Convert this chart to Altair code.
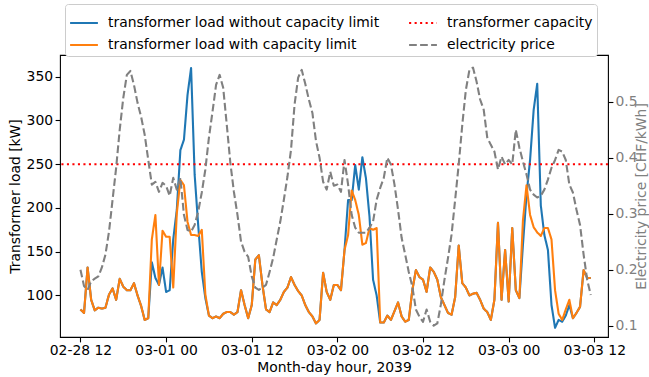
import altair as alt
import pandas as pd

# 30-minute time grid, 2039-02-28 12:00 .. 2039-03-03 11:30
times = pd.date_range("2039-02-28 12:00", periods=144, freq="30min").strftime("%Y-%m-%dT%H:%M:%S").tolist()

load_with_limit = [
    84, 80, 132, 95, 83, 86, 85, 86, 101, 108, 95, 119, 110, 106, 106, 114, 100, 88, 72, 74,
    164, 192, 112, 174, 167, 167, 109, 194, 232, 226, 184, 169, 169, 168, 175, 101, 77, 74, 76, 74,
    79, 81, 81, 78, 81, 106, 89, 74, 89, 141, 146, 112, 84, 81, 92, 89, 95, 104, 109, 121,
    112, 105, 100, 89, 81, 76, 68, 72, 126, 104, 95, 112, 112, 106, 152, 169, 220, 209, 192, 158,
    160, 177, 175, 177, 69, 69, 77, 72, 82, 92, 76, 70, 72, 106, 129, 121, 118, 104, 132, 127,
    118, 98, 89, 80, 78, 98, 157, 114, 109, 100, 102, 103, 95, 85, 81, 72, 95, 183, 95, 152,
    93, 177, 106, 97, 186, 226, 192, 178, 172, 168, 177, 177, 164, 106, 79, 72, 84, 95, 74, 80,
    87, 129, 120, 120,
]

load_without_limit = [
    84, 80, 132, 95, 83, 86, 85, 86, 101, 108, 95, 119, 110, 106, 106, 114, 100, 88, 72, 74,
    138, 120, 112, 132, 104, 106, 164, 198, 266, 278, 329, 360, 238, 180, 127, 97, 77, 74, 76, 74,
    79, 81, 81, 78, 81, 106, 89, 74, 89, 141, 146, 112, 84, 81, 92, 89, 95, 104, 109, 121,
    112, 105, 100, 89, 81, 76, 68, 72, 126, 104, 95, 112, 112, 106, 152, 209, 209, 249, 221, 258,
    234, 190, 118, 100, 69, 69, 77, 72, 82, 92, 76, 70, 72, 106, 129, 121, 118, 104, 132, 127,
    118, 98, 89, 80, 78, 98, 157, 114, 109, 100, 102, 103, 95, 85, 81, 72, 95, 183, 95, 152,
    93, 177, 106, 97, 158, 215, 255, 312, 342, 203, 169, 152, 89, 63, 72, 70, 77, 89, 74, 80,
    87, 129, 120, 120,
]

electricity_price = [
    0.200, 0.171, 0.164, 0.179, 0.184, 0.188, 0.204, 0.227, 0.268, 0.325,
    0.382, 0.450, 0.507, 0.548, 0.555, 0.530, 0.498, 0.473, 0.441, 0.396,
    0.352, 0.357, 0.339, 0.355, 0.350, 0.332, 0.364, 0.343, 0.364, 0.298,
    0.271, 0.268, 0.280, 0.304, 0.338, 0.379, 0.436, 0.482, 0.530, 0.548,
    0.525, 0.459, 0.391, 0.339, 0.298, 0.250, 0.232, 0.223, 0.188, 0.168,
    0.164, 0.168, 0.173, 0.196, 0.221, 0.254, 0.286, 0.325, 0.366, 0.414,
    0.495, 0.543, 0.557, 0.532, 0.504, 0.480, 0.430, 0.400, 0.357, 0.343,
    0.375, 0.350, 0.352, 0.339, 0.396, 0.352, 0.298, 0.275, 0.266, 0.266,
    0.266, 0.275, 0.286, 0.325, 0.346, 0.364, 0.400, 0.388, 0.352, 0.307,
    0.257, 0.227, 0.196, 0.170, 0.129, 0.116, 0.107, 0.129, 0.107, 0.100,
    0.104, 0.138, 0.182, 0.221, 0.263, 0.325, 0.388, 0.459, 0.521, 0.557,
    0.561, 0.536, 0.504, 0.486, 0.436, 0.423, 0.411, 0.379, 0.402, 0.388,
    0.396, 0.388, 0.450, 0.418, 0.393, 0.370, 0.343, 0.334, 0.329, 0.332,
    0.343, 0.361, 0.382, 0.396, 0.414, 0.411, 0.396, 0.352, 0.338, 0.307,
    0.280, 0.227, 0.182, 0.155,
]

transformer_capacity = [250]

# legend is filled column by column
series_names = [
    "transformer load without capacity limit",
    "transformer load with capacity limit",
    "transformer capacity",
    "electricity price",
]
series_colors = ["#1f77b4", "#ff7f0e", "#ff0000", "#808080"]
series_dashes = [[1, 0], [1, 0], [2.1, 3.4], [7.7, 3.3]]

load_ticks = [100, 150, 200, 250, 300, 350]
price_ticks = [0.1, 0.2, 0.3, 0.4, 0.5]

FONT = "DejaVu Sans"
FS = 13.9
LW = 2.1

df_blue = pd.DataFrame({"time": times, "load": load_without_limit, "series": series_names[0]})
df_orange = pd.DataFrame({"time": times, "load": load_with_limit, "series": series_names[1]})
df_cap = pd.DataFrame({"load": transformer_capacity, "series": series_names[2]})
df_price = pd.DataFrame({"time": times, "price": electricity_price, "series": series_names[3]})

legend = alt.Legend(
    title=None, orient="none", legendX=5, legendY=-51, columns=2,
    symbolType="stroke", symbolSize=773, symbolStrokeWidth=LW,
    labelFont=FONT, labelFontSize=FS, labelColor="black", labelLimit=500,
    padding=4, rowPadding=-2, columnPadding=24, labelOffset=9,
    strokeColor="#cccccc", fillColor="white", cornerRadius=3,
)
color = alt.Color("series:N", scale=alt.Scale(domain=series_names, range=series_colors), legend=legend)
dash = alt.StrokeDash("series:N", scale=alt.Scale(domain=series_names, range=series_dashes), legend=legend)

x_ticks = [
    alt.DateTime(year=2039, month=2, date=28, hours=12),
    alt.DateTime(year=2039, month=3, date=1, hours=0),
    alt.DateTime(year=2039, month=3, date=1, hours=12),
    alt.DateTime(year=2039, month=3, date=2, hours=0),
    alt.DateTime(year=2039, month=3, date=2, hours=12),
    alt.DateTime(year=2039, month=3, date=3, hours=0),
    alt.DateTime(year=2039, month=3, date=3, hours=12),
]
x_enc = alt.X(
    "time:T",
    scale=alt.Scale(domain=[alt.DateTime(year=2039, month=2, date=28, hours=9, minutes=8),
                            alt.DateTime(year=2039, month=3, date=3, hours=13, minutes=55)]),
    axis=alt.Axis(values=x_ticks, format="%m-%d %H", title="Month-day hour, 2039",
                  titleX=274, titleY=30, titleBaseline="middle", labelPadding=2),
)

y_load_scale = alt.Scale(domain=[52.5, 374.8], nice=False, zero=False)
y_load_axis = alt.Axis(values=load_ticks, title="Transformer load [kW]", titleAngle=270,
                       titleX=-45, titleY=141, titleBaseline="middle", titleAlign="center",
                       labelPadding=2.5)

blue = alt.Chart(df_blue).mark_line(strokeWidth=LW, strokeJoin="round").encode(
    x=x_enc, y=alt.Y("load:Q", scale=y_load_scale, axis=y_load_axis), color=color, strokeDash=dash)
orange = alt.Chart(df_orange).mark_line(strokeWidth=LW, strokeJoin="round").encode(
    x=x_enc, y=alt.Y("load:Q", scale=y_load_scale, axis=y_load_axis), color=color, strokeDash=dash)
cap = alt.Chart(df_cap).mark_rule(strokeWidth=LW).encode(
    y=alt.Y("load:Q", scale=y_load_scale, axis=y_load_axis), color=color, strokeDash=dash)

left = alt.layer(blue, orange, cap)

price = alt.Chart(df_price).mark_line(strokeWidth=LW, strokeJoin="round").encode(
    x=x_enc,
    y=alt.Y("price:Q", scale=alt.Scale(domain=[0.0798, 0.5835], nice=False, zero=False),
            axis=alt.Axis(orient="right", values=price_ticks, format=".1f",
                          title="Electricity price [CHF/kWh]", titleColor="#808080",
                          labelColor="#808080", titleAngle=270, titleX=33, titleY=141,
                          titleBaseline="middle", titleAlign="center", labelPadding=2)),
    color=color, strokeDash=dash,
)

chart = alt.layer(left, price).resolve_scale(y="independent").properties(
    width=548, height=282,
    autosize=alt.AutoSizeParams(type="none"),
    padding={"left": 60, "top": 55, "right": 41, "bottom": 40},
).configure(font=FONT).configure_view(stroke="black", strokeWidth=1.1).configure_axis(
    domain=False, grid=False, tickSize=4.9, tickWidth=1.1, tickColor="black",
    labelFont=FONT, labelFontSize=FS, labelColor="black",
    titleFont=FONT, titleFontSize=FS, titleFontWeight="normal", titleColor="black",
)

chart.save("out.html", embed_options={"renderer": "svg", "actions": False})
